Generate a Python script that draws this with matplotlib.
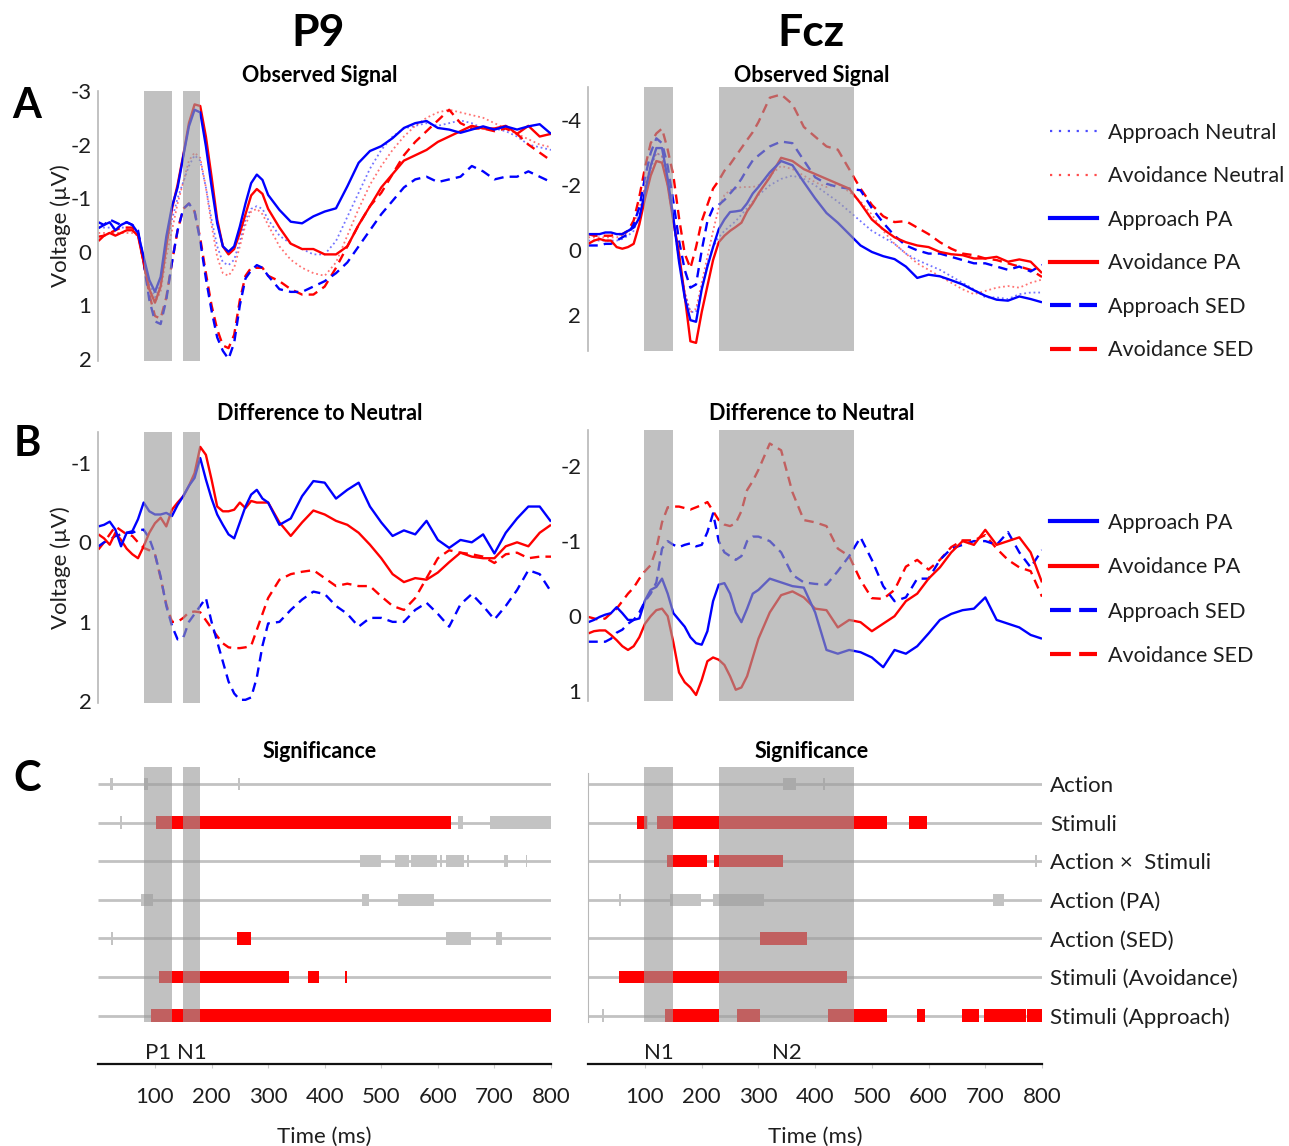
import matplotlib
matplotlib.use("Agg")
import matplotlib.pyplot as plt
from matplotlib.lines import Line2D

plt.rcParams['font.family'] = ['Lato', 'DejaVu Sans']

# ---------------- data ----------------
T = list(range(0, 301, 10)) + list(range(320, 801, 20))

# P9 - observed signal (uV)
P9_OBS_APP_NEU = [-0.45, -0.45, -0.45, -0.45, -0.45, -0.45, -0.45, -0.35, 0.10, 0.60, 0.85, 0.60, -0.10, -0.60, -1.00, -1.30,
                  -1.60, -1.80, -1.70, -1.20, -0.60, -0.10, 0.20, 0.25, 0.15, -0.20, -0.60, -0.80, -0.85, -0.80, -0.60,
                  -0.30, -0.15, -0.05, 0.05, 0.05, -0.20, -0.65, -1.10, -1.55, -1.90, -2.15, -2.30, -2.35, -2.40, -2.35,
                  -2.40, -2.45, -2.40, -2.30, -2.30, -2.25, -2.15, -2.00, -1.95, -1.90]
P9_OBS_AVO_NEU = [-0.35, -0.35, -0.35, -0.35, -0.35, -0.35, -0.35, -0.30, 0.20, 0.70, 0.95, 0.75, 0.10, -0.40, -0.90, -1.30,
                  -1.70, -1.85, -1.75, -1.20, -0.50, 0.10, 0.40, 0.45, 0.30, -0.10, -0.50, -0.75, -0.80, -0.70, -0.50,
                  -0.10, 0.15, 0.30, 0.40, 0.45, 0.20, -0.30, -0.80, -1.25, -1.60, -1.90, -2.15, -2.35, -2.50, -2.60,
                  -2.65, -2.60, -2.55, -2.50, -2.40, -2.30, -2.20, -2.10, -2.00, -1.95]
P9_OBS_APP_PA = [-0.44, -0.50, -0.55, -0.40, -0.50, -0.55, -0.50, -0.35, 0.10, 0.53, 0.75, 0.47, -0.28, -0.84, -1.20, -1.78,
                 -2.34, -2.65, -2.60, -1.97, -1.22, -0.53, -0.10, 0.00, -0.10, -0.47, -0.90, -1.28, -1.44, -1.34, -1.06,
                 -0.78, -0.56, -0.53, -0.66, -0.75, -0.81, -1.22, -1.66, -1.88, -1.97, -2.12, -2.31, -2.40, -2.44, -2.31,
                 -2.28, -2.22, -2.28, -2.34, -2.28, -2.34, -2.28, -2.34, -2.38, -2.20]
P9_OBS_AVO_PA = [-0.28, -0.30, -0.35, -0.30, -0.35, -0.40, -0.40, -0.30, 0.20, 0.70, 0.95, 0.65, -0.10, -0.80, -1.25, -1.80,
                 -2.40, -2.75, -2.72, -2.15, -1.40, -0.60, -0.10, 0.05, -0.05, -0.35, -0.70, -1.05, -1.17, -1.08, -0.80,
                 -0.45, -0.15, -0.05, -0.05, 0.05, 0.05, -0.10, -0.50, -0.85, -1.20, -1.45, -1.70, -1.80, -1.90, -2.05,
                 -2.15, -2.25, -2.35, -2.30, -2.30, -2.35, -2.20, -2.35, -2.15, -2.20]
P9_OBS_APP_SED = [-0.55, -0.50, -0.60, -0.55, -0.50, -0.55, -0.50, -0.40, 0.20, 0.90, 1.30, 1.35, 0.90, 0.20, -0.40, -0.80,
                  -0.90, -0.75, -0.20, 0.50, 1.10, 1.60, 1.85, 2.00, 1.70, 1.00, 0.50, 0.35, 0.25, 0.30, 0.45,
                  0.70, 0.75, 0.75, 0.65, 0.55, 0.40, 0.20, -0.10, -0.40, -0.70, -0.95, -1.20, -1.35, -1.40, -1.30,
                  -1.35, -1.40, -1.60, -1.50, -1.35, -1.40, -1.40, -1.50, -1.40, -1.30]
P9_OBS_AVO_SED = [-0.20, -0.30, -0.35, -0.40, -0.45, -0.45, -0.45, -0.35, 0.20, 0.80, 1.20, 1.25, 0.85, 0.20, -0.40, -0.80,
                  -0.90, -0.75, -0.25, 0.40, 1.00, 1.45, 1.75, 1.80, 1.55, 0.90, 0.45, 0.30, 0.30, 0.30, 0.45,
                  0.55, 0.70, 0.80, 0.80, 0.65, 0.30, -0.10, -0.50, -0.85, -1.10, -1.45, -1.80, -2.05, -2.25, -2.45,
                  -2.65, -2.40, -2.30, -2.30, -2.25, -2.30, -2.20, -2.00, -1.85, -1.70]

# Fcz - observed signal (uV)
FCZ_OBS_APP_NEU = [-0.30, -0.30, -0.30, -0.30, -0.30, -0.30, -0.35, -0.45, -0.60, -1.10, -1.90, -2.50, -3.00, -2.90, -2.00, -0.90,
                   0.30, 1.30, 1.90, 1.90, 1.20, 0.40, -0.10, -0.40, -0.60, -0.75, -0.90, -1.10, -1.30, -1.50, -1.70,
                   -2.00, -2.20, -2.30, -2.20, -2.00, -1.75, -1.50, -1.20, -0.90, -0.60, -0.40, -0.20, 0.10, 0.30, 0.45,
                   0.60, 0.80, 1.00, 1.20, 1.45, 1.45, 1.50, 1.35, 1.30, 1.30]
FCZ_OBS_AVO_NEU = [-0.40, -0.40, -0.40, -0.40, -0.40, -0.40, -0.45, -0.55, -0.80, -1.30, -2.00, -2.60, -3.00, -2.90, -2.00, -0.90,
                   0.30, 1.30, 1.90, 1.80, 1.00, 0.20, -0.60, -1.30, -1.70, -1.85, -1.90, -1.95, -1.95, -1.95, -2.00,
                   -2.30, -2.60, -2.50, -2.30, -2.10, -1.95, -2.05, -1.80, -1.50, -1.10, -0.60, -0.20, 0.10, 0.40, 0.60,
                   0.80, 1.00, 1.20, 1.35, 1.25, 1.15, 1.10, 1.15, 1.00, 0.90]
FCZ_OBS_APP_PA = [-0.50, -0.50, -0.50, -0.55, -0.55, -0.50, -0.50, -0.60, -0.70, -1.00, -1.80, -2.60, -3.15, -3.15, -2.20, -1.00,
                  0.35, 1.45, 2.15, 2.20, 1.20, 0.50, -0.10, -0.65, -0.95, -1.18, -1.20, -1.23, -1.45, -1.75, -1.95,
                  -2.40, -2.75, -2.62, -2.10, -1.60, -1.15, -0.85, -0.50, -0.15, 0.05, 0.18, 0.27, 0.50, 0.85, 0.75,
                  0.80, 0.92, 1.05, 1.23, 1.40, 1.52, 1.55, 1.42, 1.50, 1.60]
FCZ_OBS_AVO_PA = [-0.20, -0.30, -0.35, -0.30, -0.30, -0.10, -0.05, -0.10, -0.20, -0.80, -1.60, -2.30, -2.75, -2.70, -2.00, -0.90,
                  0.10, 1.40, 2.80, 2.85, 1.90, 1.10, 0.30, -0.25, -0.45, -0.60, -0.72, -0.85, -1.20, -1.45, -1.75,
                  -2.25, -2.85, -2.75, -2.50, -2.35, -2.20, -2.05, -1.90, -1.45, -0.95, -0.65, -0.40, -0.25, -0.15, -0.10,
                  0.05, 0.12, 0.15, 0.25, 0.25, 0.20, 0.35, 0.28, 0.35, 0.70]
FCZ_OBS_APP_SED = [-0.15, -0.15, -0.15, -0.20, -0.20, -0.30, -0.40, -0.50, -0.80, -1.33, -2.25, -3.00, -3.45, -3.30, -2.60, -1.50,
                   -0.30, 0.60, 1.15, 1.05, 0.00, -0.90, -1.30, -1.40, -1.55, -1.75, -1.95, -2.20, -2.50, -2.77, -2.92,
                   -3.20, -3.35, -3.30, -2.77, -2.25, -2.05, -1.95, -1.90, -1.85, -1.30, -0.85, -0.45, -0.15, 0.00, 0.10,
                   0.10, 0.20, 0.30, 0.40, 0.40, 0.50, 0.60, 0.50, 0.65, 0.45]
FCZ_OBS_AVO_SED = [-0.50, -0.45, -0.45, -0.45, -0.45, -0.50, -0.50, -0.60, -0.92, -1.65, -2.55, -3.30, -3.60, -3.75, -3.10, -2.30,
                   -1.00, 0.10, 0.55, -0.10, -0.90, -1.40, -1.90, -2.15, -2.45, -2.65, -2.90, -3.15, -3.40, -3.64, -3.95,
                   -4.70, -4.80, -4.50, -3.80, -3.50, -3.20, -3.10, -2.50, -1.90, -1.40, -1.05, -0.87, -0.90, -0.70, -0.50,
                   -0.25, -0.05, 0.10, 0.15, 0.25, 0.30, 0.40, 0.50, 0.60, 0.82]

# P9 - difference to neutral (uV)
P9_DIF_APP_PA = [-0.20, -0.22, -0.26, -0.16, 0.05, -0.12, -0.14, -0.29, -0.50, -0.39, -0.35, -0.35, -0.37, -0.33, -0.47, -0.58,
                 -0.71, -0.81, -1.06, -0.79, -0.55, -0.35, -0.22, -0.10, -0.05, -0.25, -0.45, -0.60, -0.66, -0.55, -0.50,
                 -0.22, -0.30, -0.58, -0.77, -0.75, -0.55, -0.66, -0.75, -0.45, -0.25, -0.08, -0.15, -0.10, -0.27, -0.03,
                 0.07, -0.03, 0.00, -0.10, 0.14, -0.12, -0.30, -0.45, -0.45, -0.26]
P9_DIF_AVO_PA = [-0.10, -0.05, 0.03, -0.12, -0.03, 0.08, 0.15, 0.20, 0.05, -0.12, -0.24, -0.31, -0.20, -0.41, -0.50, -0.58,
                 -0.71, -0.87, -1.20, -1.10, -0.79, -0.45, -0.39, -0.39, -0.41, -0.50, -0.43, -0.52, -0.50, -0.50, -0.50,
                 -0.25, -0.08, -0.25, -0.40, -0.35, -0.27, -0.22, -0.12, 0.03, 0.20, 0.40, 0.50, 0.45, 0.47, 0.38,
                 0.25, 0.13, 0.18, 0.20, 0.20, 0.05, 0.00, 0.05, -0.12, -0.22]
P9_DIF_APP_SED = [0.05, 0.00, -0.03, -0.08, -0.10, -0.12, -0.12, -0.15, -0.16, -0.05, 0.15, 0.43, 0.80, 1.05, 1.22, 1.20,
                  1.00, 0.90, 0.80, 0.70, 1.00, 1.25, 1.50, 1.75, 1.90, 1.98, 1.98, 1.95, 1.70, 1.30, 1.02,
                  1.00, 0.85, 0.72, 0.62, 0.65, 0.80, 0.90, 1.06, 0.95, 0.95, 1.00, 1.00, 0.85, 0.76, 0.90,
                  1.06, 0.78, 0.65, 0.80, 0.97, 0.80, 0.60, 0.35, 0.40, 0.62]
P9_DIF_AVO_SED = [0.09, 0.00, -0.10, -0.20, -0.15, -0.10, -0.08, 0.00, 0.07, 0.10, 0.15, 0.45, 0.78, 1.00, 1.00, 0.95,
                  0.88, 0.87, 0.88, 0.98, 1.08, 1.18, 1.27, 1.32, 1.33, 1.33, 1.32, 1.30, 1.10, 0.90, 0.70,
                  0.47, 0.40, 0.37, 0.35, 0.45, 0.55, 0.52, 0.55, 0.55, 0.68, 0.80, 0.85, 0.70, 0.45, 0.20,
                  0.10, 0.13, 0.15, 0.18, 0.26, 0.15, 0.13, 0.20, 0.18, 0.18]

# Fcz - difference to neutral (uV)
FCZ_DIF_APP_PA = [0.08, 0.05, 0.01, -0.02, -0.04, -0.12, -0.04, 0.05, 0.05, 0.03, -0.21, -0.35, -0.39, -0.50, -0.30, -0.04,
                  0.05, 0.14, 0.28, 0.36, 0.38, 0.20, -0.20, -0.42, -0.44, -0.30, -0.05, 0.08, -0.10, -0.30, -0.35,
                  -0.50, -0.45, -0.40, -0.38, -0.05, 0.45, 0.50, 0.45, 0.48, 0.55, 0.68, 0.45, 0.50, 0.40, 0.23,
                  0.05, -0.03, -0.08, -0.10, -0.25, 0.05, 0.10, 0.15, 0.25, 0.30]
FCZ_DIF_AVO_PA = [0.23, 0.20, 0.19, 0.19, 0.25, 0.32, 0.40, 0.45, 0.40, 0.28, 0.10, 0.00, -0.08, -0.10, 0.00, 0.35,
                  0.75, 0.88, 0.95, 1.05, 0.85, 0.60, 0.55, 0.58, 0.65, 0.80, 0.98, 0.95, 0.80, 0.55, 0.30,
                  -0.05, -0.28, -0.33, -0.25, -0.10, -0.08, 0.15, 0.05, 0.08, 0.20, 0.10, 0.00, -0.20, -0.30, -0.50,
                  -0.65, -0.85, -1.00, -0.95, -1.15, -0.95, -1.00, -1.05, -0.85, -0.45]
FCZ_DIF_APP_SED = [0.34, 0.34, 0.34, 0.34, 0.30, 0.22, 0.18, 0.10, 0.05, -0.05, -0.20, -0.30, -0.45, -0.90, -1.00, -0.95,
                   -0.92, -0.95, -0.97, -0.93, -0.95, -1.12, -1.37, -1.00, -0.85, -0.80, -0.75, -0.80, -1.00, -1.06, -1.06,
                   -1.00, -0.85, -0.55, -0.45, -0.43, -0.42, -0.60, -0.80, -1.05, -0.75, -0.40, -0.20, -0.25, -0.50, -0.50,
                   -0.75, -0.90, -0.95, -1.00, -1.00, -0.95, -1.12, -0.85, -0.65, -0.88]
FCZ_DIF_AVO_SED = [0.01, 0.03, 0.05, 0.03, -0.04, -0.10, -0.20, -0.30, -0.38, -0.50, -0.60, -0.68, -0.90, -1.25, -1.45, -1.46,
                   -1.46, -1.44, -1.42, -1.45, -1.48, -1.52, -1.40, -1.28, -1.22, -1.20, -1.24, -1.40, -1.68, -1.80, -1.95,
                   -2.30, -2.21, -1.65, -1.28, -1.25, -1.20, -0.90, -0.80, -0.48, -0.24, -0.23, -0.35, -0.66, -0.75, -0.62,
                   -0.75, -0.92, -1.01, -1.01, -1.08, -0.90, -0.75, -0.65, -0.60, -0.26]

# Component windows (ms)
P9_WINDOWS = [(80, 130), (150, 180)]
P9_WINDOW_NAMES = ['P1', 'N1']
FCZ_WINDOWS = [(98, 150), (230, 469)]
FCZ_WINDOW_NAMES = ['N1', 'N2']

# Significance (ms intervals), rows top to bottom
SIG_ROWS = ['Action', 'Stimuli', 'Action \u00d7  Stimuli', 'Action (PA)', 'Action (SED)',
            'Stimuli (Avoidance)', 'Stimuli (Approach)']
P9_SIG_RED = [[], [(102, 623)], [], [], [(245, 269)],
              [(107, 337), (370, 390), (436, 440)], [(93, 800)]]
P9_SIG_GRAY = [[(20, 26), (80, 87), (247, 250)],
               [(38, 41), (635, 644), (692, 800)],
               [(462, 500), (525, 549), (553, 599), (604, 607), (615, 646), (652, 655), (717, 724), (755, 758)],
               [(76, 97), (466, 478), (529, 593)],
               [(22, 25), (615, 658), (702, 714)],
               [], []]
FCZ_SIG_RED = [[], [(86, 103), (121, 526), (566, 597)],
               [(138, 209), (222, 343)], [], [(303, 386)], [(54, 456)],
               [(136, 230), (262, 302), (422, 527), (580, 593), (659, 689), (698, 771), (774, 800)]]
FCZ_SIG_GRAY = [[(343, 367), (414, 417)], [(103, 106)], [(788, 791)],
                [(55, 58), (144, 198), (220, 309), (714, 733)], [], [], [(24, 27)]]

XTICKS = [100, 200, 300, 400, 500, 600, 700, 800]

# ---------------- figure ----------------
W, H = 1289, 1146
fig = plt.figure(figsize=(W / 100, H / 100), dpi=100)

BLUE, RED = '#0000ff', '#ff0000'
BAND_COLOR = '#9c9c9c'
BAND_ALPHA = 0.62
TXT = '#1e1e1e'
FS_LAB = 16
FS_LEG = 15.5

STYLES = {
    'neu': dict(ls=(0, (1, 1.6)), lw=1.3, alpha=0.55),
    'pa': dict(ls='-', lw=1.7, alpha=1.0),
    'sed': dict(ls=(0, (4, 2.6)), lw=1.7, alpha=1.0),
}


def add_ax(x0, y0, x1, y1):
    return fig.add_axes([x0 / W, 1 - y1 / H, (x1 - x0) / W, (y1 - y0) / H])


LX0, LX1 = 98.4, 551.0
RX0, RX1 = 588.3, 1042.0


def wave_panel(ax, series, windows, ylim, yticks, ylabel):
    for vals, color, kind in series:
        st = STYLES[kind]
        ax.plot(T, vals, color=color, linestyle=st['ls'], lw=st['lw'], alpha=st['alpha'],
                zorder=2, solid_capstyle='butt')
    for a, b in windows:
        ax.axvspan(a, b, color=BAND_COLOR, alpha=BAND_ALPHA, lw=0, zorder=3)
    ax.set_xlim(0, 800)
    ax.set_ylim(*ylim)
    ax.set_yticks(yticks)
    ax.set_yticklabels([f'{v:g}' for v in yticks])
    for s in ['top', 'right', 'bottom']:
        ax.spines[s].set_visible(False)
    ax.spines['left'].set_color('#b8b8b8')
    ax.spines['left'].set_linewidth(1.2)
    ax.set_xticks([])
    ax.tick_params(axis='y', length=0, labelsize=FS_LAB, pad=5, colors=TXT)
    ax.patch.set_alpha(0)
    if ylabel:
        ax.set_ylabel('Voltage (\u00b5V)', fontsize=FS_LAB, color=TXT)
        ax.yaxis.set_label_coords(-0.06, 0.5)


def sig_panel(ax, red, gray, windows, names, show_labels):
    rows = list(range(len(SIG_ROWS)))
    ax.hlines(rows, 0, 800, color='#c2c2c2', lw=2, zorder=1)
    for i in rows:
        if gray[i]:
            ax.broken_barh([(a, b - a) for a, b in gray[i]], (i - 0.16, 0.32), color='#c3c3c3', lw=0, zorder=2)
        if red[i]:
            ax.broken_barh([(a, b - a) for a, b in red[i]], (i - 0.16, 0.32), color=RED, lw=0, zorder=2)
    for (a, b), nm in zip(windows, names):
        ax.axvspan(a, b, ymin=0.143, ymax=1.0, color=BAND_COLOR, alpha=BAND_ALPHA, lw=0, zorder=3)
        ax.text((a + b) / 2, 6.97, nm, ha='center', va='center', fontsize=FS_LAB, color=TXT)
    ax.set_xlim(0, 800)
    ax.set_ylim(7.26, -0.448)
    ax.set_xticks(XTICKS)
    ax.set_xticklabels([str(v) for v in XTICKS])
    ax.tick_params(axis='x', length=3, direction='out', color='#cccccc', labelsize=FS_LAB, pad=13, colors=TXT)
    ax.tick_params(axis='x', color='#cccccc')
    ax.set_xlabel('Time (ms)', fontsize=FS_LAB, color=TXT, labelpad=15)
    for s in ['top', 'right']:
        ax.spines[s].set_visible(False)
    ax.spines['bottom'].set_color('#111111')
    ax.spines['bottom'].set_linewidth(1.6)
    ax.yaxis.tick_right()
    ax.set_yticks(rows)
    if show_labels:
        ax.set_yticklabels(SIG_ROWS)
        ax.spines['left'].set_color('#b8b8b8')
        ax.spines['left'].set_bounds(-0.28, 6.17)
    else:
        ax.set_yticklabels([''] * len(rows))
        ax.spines['left'].set_visible(False)
    ax.tick_params(axis='y', length=0, labelsize=FS_LAB, pad=6, colors=TXT)
    ax.patch.set_alpha(0)


# Panel A
axA1 = add_ax(LX0, 91, LX1, 361)
wave_panel(axA1, [(P9_OBS_APP_NEU, BLUE, 'neu'), (P9_OBS_AVO_NEU, RED, 'neu'),
                  (P9_OBS_AVO_SED, RED, 'sed'), (P9_OBS_APP_SED, BLUE, 'sed'),
                  (P9_OBS_AVO_PA, RED, 'pa'), (P9_OBS_APP_PA, BLUE, 'pa')],
           P9_WINDOWS, (2.04, -3.0), [-3, -2, -1, 0, 1, 2], True)
axA2 = add_ax(RX0, 87, RX1, 351)
wave_panel(axA2, [(FCZ_OBS_APP_NEU, BLUE, 'neu'), (FCZ_OBS_AVO_NEU, RED, 'neu'),
                  (FCZ_OBS_AVO_SED, RED, 'sed'), (FCZ_OBS_APP_SED, BLUE, 'sed'),
                  (FCZ_OBS_AVO_PA, RED, 'pa'), (FCZ_OBS_APP_PA, BLUE, 'pa')],
           FCZ_WINDOWS, (3.1, -5.03), [-4, -2, 0, 2], False)

# Panel B
axB1 = add_ax(LX0, 432, LX1, 703)
wave_panel(axB1, [(P9_DIF_AVO_SED, RED, 'sed'), (P9_DIF_APP_SED, BLUE, 'sed'),
                  (P9_DIF_AVO_PA, RED, 'pa'), (P9_DIF_APP_PA, BLUE, 'pa')],
           P9_WINDOWS, (2.02, -1.387), [-1, 0, 1, 2], True)
axB2 = add_ax(RX0, 430, RX1, 701)
wave_panel(axB2, [(FCZ_DIF_AVO_SED, RED, 'sed'), (FCZ_DIF_APP_SED, BLUE, 'sed'),
                  (FCZ_DIF_AVO_PA, RED, 'pa'), (FCZ_DIF_APP_PA, BLUE, 'pa')],
           FCZ_WINDOWS, (1.13, -2.48), [-2, -1, 0, 1], False)

# Panel C
axC1 = add_ax(LX0, 766.7, LX1, 1064.3)
sig_panel(axC1, P9_SIG_RED, P9_SIG_GRAY, P9_WINDOWS, P9_WINDOW_NAMES, False)
axC2 = add_ax(RX0, 766.7, RX1, 1064.3)
sig_panel(axC2, FCZ_SIG_RED, FCZ_SIG_GRAY, FCZ_WINDOWS, FCZ_WINDOW_NAMES, True)

# Legends
def handle(color, kind):
    if kind == 'neu':
        return Line2D([], [], color=color, linestyle=(0, (1, 3)), lw=1.6, alpha=0.7)
    if kind == 'pa':
        return Line2D([], [], color=color, linestyle='-', lw=3)
    return Line2D([], [], color=color, linestyle=(0, (5, 2)), lw=3)


legA = [(BLUE, 'neu', 'Approach Neutral'), (RED, 'neu', 'Avoidance Neutral'),
        (BLUE, 'pa', 'Approach PA'), (RED, 'pa', 'Avoidance PA'),
        (BLUE, 'sed', 'Approach SED'), (RED, 'sed', 'Avoidance SED')]
fig.legend([handle(c, k) for c, k, _ in legA], [l for _, _, l in legA],
           loc='upper left', bbox_to_anchor=(1050 / W, 1 - 123 / H), frameon=False,
           fontsize=FS_LEG, handlelength=2.2, handletextpad=0.5, labelspacing=1.09,
           borderaxespad=0, borderpad=0, labelcolor=TXT)
legB = legA[2:]
fig.legend([handle(c, k) for c, k, _ in legB], [l for _, _, l in legB],
           loc='upper left', bbox_to_anchor=(1050 / W, 1 - 513 / H), frameon=False,
           fontsize=FS_LEG, handlelength=2.2, handletextpad=0.5, labelspacing=1.13,
           borderaxespad=0, borderpad=0, labelcolor=TXT)

# Titles and panel letters
def ftext(x, y, s, size, weight='normal'):
    fig.text(x / W, 1 - y / H, s, ha='center', va='center', fontsize=size, weight=weight, color='#000000')


ftext(318, 33, 'P9', 32, 'bold')
ftext(811, 33, 'Fcz', 32, 'bold')
for cx in (320, 812):
    ftext(cx, 75, 'Observed Signal', 15.5, 'bold')
    ftext(cx, 413, 'Difference to Neutral', 15.5, 'bold')
    ftext(cx, 751, 'Significance', 15.5, 'bold')
ftext(27, 106, 'A', 30, 'bold')
ftext(27, 444, 'B', 30, 'bold')
ftext(27, 779, 'C', 30, 'bold')

fig.savefig('out.png', dpi=100)
